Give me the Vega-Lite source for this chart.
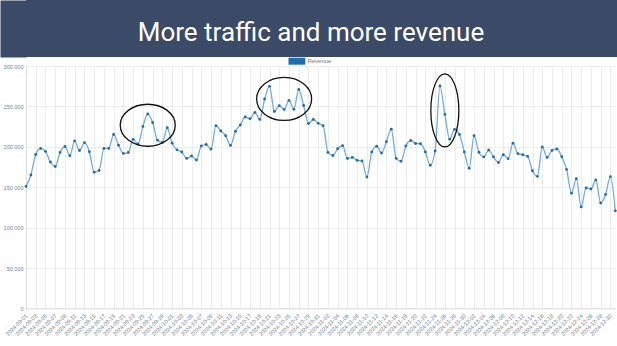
{
  "$schema": "https://vega.github.io/schema/vega-lite/v6.json",
  "padding": 0,
  "background": "#ffffff",
  "columns": 1,
  "bounds": "full",
  "spacing": 0,
  "resolve": {"scale": {"color": "independent", "shape": "independent", "y": "independent"}, "legend": {"color": "independent", "shape": "independent"}},
  "config": {"view": {"stroke": null}, "font": "Liberation Sans"},
  "concat": [
    {
      "width": 591.5,
      "height": 57,
      "view": {"fill": "#3b4a66", "stroke": null},
      "data": {"values": [{"title": "More traffic and more revenue"}]},
      "mark": {"type": "text", "font": "Roboto", "fontSize": 26, "color": "#ffffff", "align": "center", "baseline": "alphabetic", "dy": 12, "dx": -10.75},
      "encoding": {
        "text": {"field": "title", "type": "nominal"},
        "y": {"datum": 0.5, "type": "quantitative", "scale": {"domain": [0, 1]},
              "axis": {"title": null, "labels": false, "ticks": false, "grid": false, "domainColor": "#3b4a66", "domainWidth": 26, "domainCap": "butt", "offset": 13, "minExtent": 0, "maxExtent": 0}}
      }
    },
    {
      "width": 589.3,
      "height": 242.4,
      "data": {"values": [
        {"date": "2024-09-01", "revenue": 151000},
        {"date": "2024-09-02", "revenue": 165100},
        {"date": "2024-09-03", "revenue": 190500},
        {"date": "2024-09-04", "revenue": 198000},
        {"date": "2024-09-05", "revenue": 194300},
        {"date": "2024-09-06", "revenue": 181200},
        {"date": "2024-09-07", "revenue": 175600},
        {"date": "2024-09-08", "revenue": 193100},
        {"date": "2024-09-09", "revenue": 200400},
        {"date": "2024-09-10", "revenue": 189000},
        {"date": "2024-09-11", "revenue": 207300},
        {"date": "2024-09-12", "revenue": 195400},
        {"date": "2024-09-13", "revenue": 205100},
        {"date": "2024-09-14", "revenue": 193900},
        {"date": "2024-09-15", "revenue": 168600},
        {"date": "2024-09-16", "revenue": 170700},
        {"date": "2024-09-17", "revenue": 197900},
        {"date": "2024-09-18", "revenue": 198000},
        {"date": "2024-09-19", "revenue": 215200},
        {"date": "2024-09-20", "revenue": 202000},
        {"date": "2024-09-21", "revenue": 191800},
        {"date": "2024-09-22", "revenue": 192900},
        {"date": "2024-09-23", "revenue": 209200},
        {"date": "2024-09-24", "revenue": 203500},
        {"date": "2024-09-25", "revenue": 225200},
        {"date": "2024-09-26", "revenue": 240600},
        {"date": "2024-09-27", "revenue": 230100},
        {"date": "2024-09-28", "revenue": 208200},
        {"date": "2024-09-29", "revenue": 205400},
        {"date": "2024-09-30", "revenue": 223600},
        {"date": "2024-10-01", "revenue": 204500},
        {"date": "2024-10-02", "revenue": 196200},
        {"date": "2024-10-03", "revenue": 193600},
        {"date": "2024-10-04", "revenue": 185600},
        {"date": "2024-10-05", "revenue": 188600},
        {"date": "2024-10-06", "revenue": 183700},
        {"date": "2024-10-07", "revenue": 201000},
        {"date": "2024-10-08", "revenue": 202800},
        {"date": "2024-10-09", "revenue": 197300},
        {"date": "2024-10-10", "revenue": 226100},
        {"date": "2024-10-11", "revenue": 219600},
        {"date": "2024-10-12", "revenue": 213700},
        {"date": "2024-10-13", "revenue": 201700},
        {"date": "2024-10-14", "revenue": 219100},
        {"date": "2024-10-15", "revenue": 227000},
        {"date": "2024-10-16", "revenue": 236900},
        {"date": "2024-10-17", "revenue": 234800},
        {"date": "2024-10-18", "revenue": 242600},
        {"date": "2024-10-19", "revenue": 233900},
        {"date": "2024-10-20", "revenue": 259200},
        {"date": "2024-10-21", "revenue": 274800},
        {"date": "2024-10-22", "revenue": 243700},
        {"date": "2024-10-23", "revenue": 250900},
        {"date": "2024-10-24", "revenue": 246300},
        {"date": "2024-10-25", "revenue": 257400},
        {"date": "2024-10-26", "revenue": 246500},
        {"date": "2024-10-27", "revenue": 270900},
        {"date": "2024-10-28", "revenue": 251100},
        {"date": "2024-10-29", "revenue": 228800},
        {"date": "2024-10-30", "revenue": 233800},
        {"date": "2024-10-31", "revenue": 229000},
        {"date": "2024-11-01", "revenue": 226100},
        {"date": "2024-11-02", "revenue": 193100},
        {"date": "2024-11-03", "revenue": 189200},
        {"date": "2024-11-04", "revenue": 197600},
        {"date": "2024-11-05", "revenue": 201400},
        {"date": "2024-11-06", "revenue": 185500},
        {"date": "2024-11-07", "revenue": 186900},
        {"date": "2024-11-08", "revenue": 183200},
        {"date": "2024-11-09", "revenue": 182400},
        {"date": "2024-11-10", "revenue": 162600},
        {"date": "2024-11-11", "revenue": 193700},
        {"date": "2024-11-12", "revenue": 200700},
        {"date": "2024-11-13", "revenue": 192300},
        {"date": "2024-11-14", "revenue": 206300},
        {"date": "2024-11-15", "revenue": 221800},
        {"date": "2024-11-16", "revenue": 185600},
        {"date": "2024-11-17", "revenue": 182200},
        {"date": "2024-11-18", "revenue": 201000},
        {"date": "2024-11-19", "revenue": 207800},
        {"date": "2024-11-20", "revenue": 204100},
        {"date": "2024-11-21", "revenue": 203800},
        {"date": "2024-11-22", "revenue": 193700},
        {"date": "2024-11-23", "revenue": 177200},
        {"date": "2024-11-24", "revenue": 194800},
        {"date": "2024-11-25", "revenue": 275200},
        {"date": "2024-11-26", "revenue": 240100},
        {"date": "2024-11-27", "revenue": 209400},
        {"date": "2024-11-28", "revenue": 221500},
        {"date": "2024-11-29", "revenue": 215200},
        {"date": "2024-11-30", "revenue": 193600},
        {"date": "2024-12-01", "revenue": 173500},
        {"date": "2024-12-02", "revenue": 213700},
        {"date": "2024-12-03", "revenue": 193300},
        {"date": "2024-12-04", "revenue": 187500},
        {"date": "2024-12-05", "revenue": 196000},
        {"date": "2024-12-06", "revenue": 187500},
        {"date": "2024-12-07", "revenue": 180600},
        {"date": "2024-12-08", "revenue": 190200},
        {"date": "2024-12-09", "revenue": 185300},
        {"date": "2024-12-10", "revenue": 204500},
        {"date": "2024-12-11", "revenue": 191500},
        {"date": "2024-12-12", "revenue": 190200},
        {"date": "2024-12-13", "revenue": 188100},
        {"date": "2024-12-14", "revenue": 170400},
        {"date": "2024-12-15", "revenue": 163400},
        {"date": "2024-12-16", "revenue": 199800},
        {"date": "2024-12-17", "revenue": 186900},
        {"date": "2024-12-18", "revenue": 195500},
        {"date": "2024-12-19", "revenue": 197300},
        {"date": "2024-12-20", "revenue": 187700},
        {"date": "2024-12-21", "revenue": 172000},
        {"date": "2024-12-22", "revenue": 142600},
        {"date": "2024-12-23", "revenue": 160500},
        {"date": "2024-12-24", "revenue": 125600},
        {"date": "2024-12-25", "revenue": 149000},
        {"date": "2024-12-26", "revenue": 147800},
        {"date": "2024-12-27", "revenue": 158900},
        {"date": "2024-12-28", "revenue": 130400},
        {"date": "2024-12-29", "revenue": 141000},
        {"date": "2024-12-30", "revenue": 163000},
        {"date": "2024-12-31", "revenue": 120700}
      ]},
      "encoding": {
        "x": {
          "field": "date",
          "type": "ordinal",
          "scale": {"type": "point", "padding": 0},
          "axis": {
            "title": null,
            "grid": true,
            "gridColor": "#ececec",
            "gridWidth": 1,
            "domainColor": "#dddddd",
            "tickSize": 0,
            "labelAngle": -45,
            "labelAlign": "right",
            "labelBaseline": "middle",
            "labelPadding": 6,
            "labelFontSize": 5.5,
            "labelColor": "#687385",
            "minExtent": 33.3,
            "labelOverlap": false,
            "values": ["2024-09-01","2024-09-03","2024-09-05","2024-09-07","2024-09-09","2024-09-11","2024-09-13","2024-09-15","2024-09-17","2024-09-19","2024-09-21","2024-09-23","2024-09-25","2024-09-27","2024-09-29",
                       "2024-10-01","2024-10-03","2024-10-05","2024-10-07","2024-10-09","2024-10-11","2024-10-13","2024-10-15","2024-10-17","2024-10-19","2024-10-21","2024-10-23","2024-10-25","2024-10-27","2024-10-29","2024-10-31",
                       "2024-11-02","2024-11-04","2024-11-06","2024-11-08","2024-11-10","2024-11-12","2024-11-14","2024-11-16","2024-11-18","2024-11-20","2024-11-22","2024-11-24","2024-11-26","2024-11-28","2024-11-30",
                       "2024-12-02","2024-12-04","2024-12-06","2024-12-08","2024-12-10","2024-12-12","2024-12-14","2024-12-16","2024-12-18","2024-12-20","2024-12-22","2024-12-24","2024-12-26","2024-12-28","2024-12-30"]
          }
        },
        "y": {
          "field": "revenue",
          "type": "quantitative",
          "scale": {"domain": [0, 300000], "nice": false, "zero": true},
          "axis": {
            "title": null,
            "values": [0, 50000, 100000, 150000, 200000, 250000, 300000],
            "labelExpr": "replace(format(datum.value, ','), ',', ' ')",
            "grid": true,
            "gridColor": "#ececec",
            "domainColor": "#dddddd",
            "tickSize": 0,
            "labelPadding": 3,
            "labelFontSize": 5.5,
            "labelColor": "#5f88b0",
            "minExtent": 25.5
          }
        }
      },
      "layer": [
        {
          "mark": {"type": "line", "color": "#74abd8", "strokeWidth": 1.3, "interpolate": "monotone"}
        },
        {
          "mark": {"type": "point", "filled": true, "size": 8, "opacity": 1},
          "encoding": {
            "color": {
              "datum": "Revenue",
              "type": "nominal",
              "scale": {"range": ["#1f6eab"]},
              "legend": {
                "orient": "none",
                "legendX": 267.4,
                "legendY": -8.3,
                "direction": "horizontal",
                "title": null,
                "padding": 0,
                "symbolType": "M -2.4 -1 L 2.4 -1 L 2.4 1 L -2.4 1 Z",
                "symbolSize": 49,
                "symbolStrokeWidth": 0,
                "symbolOpacity": 1,
                "labelOffset": 7,
                "labelFontSize": 6,
                "labelColor": "#777777"
              }
            }
          }
        },
        {
          "data": {"values": [
            {"date": "2024-09-26", "revenue": 226700, "ring": "first"},
            {"date": "2024-10-24", "revenue": 259200, "ring": "second"},
            {"date": "2024-11-26", "revenue": 245000, "ring": "third"}
          ]},
          "mark": {"type": "point", "filled": false, "stroke": "#111111", "strokeWidth": 1.3, "opacity": 1, "size": 4},
          "encoding": {
            "shape": {
              "field": "ring",
              "type": "nominal",
              "legend": null,
              "scale": {
                "domain": ["first", "second", "third"],
                "range": [
                  "M 27.5 0 C 27.5 11.6 15.19 21 0 21 C -15.19 21 -27.5 11.6 -27.5 0 C -27.5 -11.6 -15.19 -21 0 -21 C 15.19 -21 27.5 -11.6 27.5 0 Z",
                  "M 27.5 0 C 27.5 11.87 15.19 21.5 0 21.5 C -15.19 21.5 -27.5 11.87 -27.5 0 C -27.5 -11.87 -15.19 -21.5 0 -21.5 C 15.19 -21.5 27.5 -11.87 27.5 0 Z",
                  "M 14 0 C 14 20.16 7.73 36.5 0 36.5 C -7.73 36.5 -14 20.16 -14 0 C -14 -20.16 -7.73 -36.5 0 -36.5 C 7.73 -36.5 14 -20.16 14 0 Z"
                ]
              }
            }
          }
        }
      ]
    },
    {
      "width": 591.5,
      "height": 5,
      "view": {"fill": "#3b4a66", "stroke": null},
      "data": {"values": [{"title": ""}]},
      "mark": {"type": "text", "color": "#3b4a66"},
      "encoding": {
        "text": {"field": "title", "type": "nominal"},
        "y": {"datum": 0.5, "type": "quantitative", "scale": {"domain": [0, 1]},
              "axis": {"title": null, "labels": false, "ticks": false, "grid": false, "domainColor": "#3b4a66", "domainWidth": 26, "domainCap": "butt", "offset": 13, "minExtent": 0, "maxExtent": 0}}
      }
    }
  ]
}
